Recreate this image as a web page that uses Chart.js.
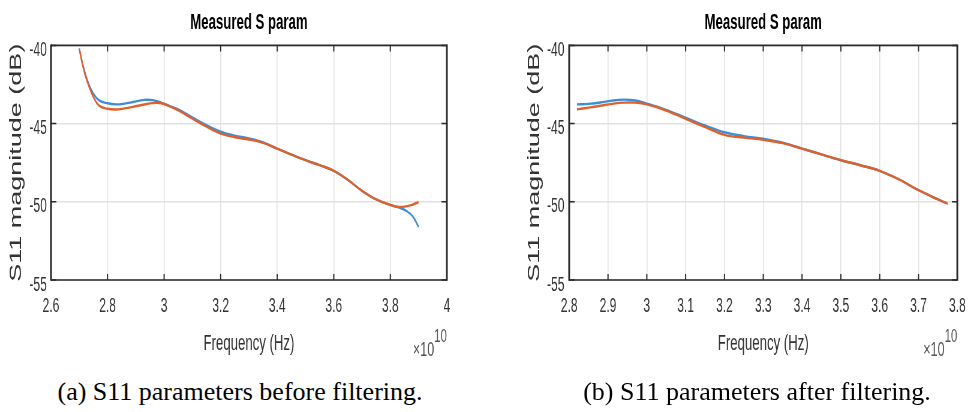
<!DOCTYPE html>
<html>
<head>
<meta charset="utf-8">
<title>S11 before / after filtering</title>
<script src="https://cdn.jsdelivr.net/npm/chart.js@4"></script>
<style>
    html, body { margin: 0; padding: 0; background: #fff; }
    body { width: 974px; height: 412px; position: relative; overflow: hidden; }
    .panel { position: absolute; top: 0; width: 487px; height: 412px; }
    .panel canvas { position: absolute; left: 0; top: 0; transform: scaleX(0.5998); transform-origin: 0 0; }
    .caption {
        position: absolute; top: 377px; transform: translateX(-50%);
        white-space: nowrap; font-family: 'Liberation Serif', 'Times New Roman', serif;
        font-size: 26px; line-height: 30px; color: #000;
    }
</style>
</head>
<body>
<div class="panel" style="left:0">
    <canvas id="chartBefore" width="812" height="365"></canvas>
    <div class="caption" style="left:240px">(a) S11 parameters before filtering.</div>
</div>
<div class="panel" style="left:487px">
    <canvas id="chartAfter" width="812" height="365"></canvas>
    <div class="caption" style="left:270px">(b) S11 parameters after filtering.</div>
</div>
<script>
// Frequencies in units of 1e10 Hz
const freqBefore = [2.70, 2.71, 2.72, 2.735, 2.75, 2.77, 2.80, 2.83, 2.86, 2.89, 2.93, 2.96, 2.99, 3.02, 3.05, 3.10, 3.15, 3.20, 3.25, 3.30, 3.35, 3.40, 3.45, 3.50, 3.55, 3.60, 3.65, 3.70, 3.75, 3.80, 3.83, 3.86, 3.88, 3.90];
const s11BeforeBlue = [-40.2, -41.05, -41.75, -42.55, -43.1, -43.52, -43.7, -43.77, -43.72, -43.62, -43.48, -43.5, -43.66, -43.88, -44.1, -44.6, -45.1, -45.52, -45.77, -45.95, -46.2, -46.6, -46.98, -47.34, -47.66, -48.02, -48.6, -49.3, -49.85, -50.2, -50.36, -50.62, -50.95, -51.6];
const s11BeforeOrange = [-40.2, -41.1, -41.82, -42.65, -43.3, -43.85, -44.05, -44.1, -44.03, -43.93, -43.78, -43.69, -43.7, -43.9, -44.15, -44.68, -45.2, -45.64, -45.87, -46.02, -46.23, -46.6, -46.98, -47.34, -47.66, -48.02, -48.6, -49.3, -49.85, -50.2, -50.33, -50.28, -50.17, -50.02];

const freqAfter = [2.82, 2.85, 2.88, 2.91, 2.94, 2.97, 3.00, 3.05, 3.10, 3.15, 3.20, 3.25, 3.30, 3.35, 3.40, 3.45, 3.50, 3.55, 3.60, 3.65, 3.70, 3.75, 3.775];
const s11AfterBlue = [-43.77, -43.74, -43.65, -43.53, -43.47, -43.52, -43.72, -44.12, -44.62, -45.12, -45.55, -45.8, -45.97, -46.22, -46.6, -46.97, -47.34, -47.66, -48.02, -48.57, -49.26, -49.85, -50.12];
const s11AfterOrange = [-44.09, -43.98, -43.86, -43.74, -43.66, -43.66, -43.77, -44.16, -44.7, -45.22, -45.72, -45.9, -46.04, -46.25, -46.6, -46.97, -47.34, -47.66, -48.02, -48.57, -49.26, -49.85, -50.12];

const yTicks = [-55, -50, -45, -40];
const xTicksBefore = [2.6, 2.8, 3.0, 3.2, 3.4, 3.6, 3.8, 4.0];
const xTicksAfter = [2.8, 2.9, 3.0, 3.1, 3.2, 3.3, 3.4, 3.5, 3.6, 3.7, 3.8];

const BLUE = '#3b8fd6';
const ORANGE = '#e0602c';
const TEXT = '#333333';
const FONT = "'Liberation Sans', Arial, sans-serif";

function toPoints(xs, ys) {
    return xs.map((x, i) => ({ x: x, y: ys[i] }));
}

// Axes box with inward tick marks and the x10^10 exponent label
const framePlugin = {
    id: 'frame',
    afterDraw(chart) {
        const { ctx, chartArea: a, scales } = chart;
        ctx.save();
        ctx.strokeStyle = '#2b2b2b';

        // ticks pointing into the plot
        ctx.lineWidth = 2;
        scales.x.ticks.forEach(t => {
            const px = scales.x.getPixelForValue(t.value);
            ctx.beginPath();
            ctx.moveTo(px, a.top); ctx.lineTo(px, a.top + 6);
            ctx.moveTo(px, a.bottom); ctx.lineTo(px, a.bottom - 6);
            ctx.stroke();
        });
        ctx.lineWidth = 1.5;
        scales.y.ticks.forEach(t => {
            const py = scales.y.getPixelForValue(t.value);
            ctx.beginPath();
            ctx.moveTo(a.left, py); ctx.lineTo(a.left + 9, py);
            ctx.moveTo(a.right, py); ctx.lineTo(a.right - 9, py);
            ctx.stroke();
        });

        // box
        ctx.lineWidth = 1.6;
        ctx.beginPath();
        ctx.moveTo(a.left, a.top); ctx.lineTo(a.right, a.top);
        ctx.moveTo(a.left, a.bottom); ctx.lineTo(a.right, a.bottom);
        ctx.stroke();
        ctx.lineWidth = 3;
        ctx.beginPath();
        ctx.moveTo(a.left, a.top - 0.8); ctx.lineTo(a.left, a.bottom + 0.8);
        ctx.moveTo(a.right, a.top - 0.8); ctx.lineTo(a.right, a.bottom + 0.8);
        ctx.stroke();

        // exponent
        ctx.fillStyle = '#555555';
        ctx.textAlign = 'right';
        ctx.textBaseline = 'alphabetic';
        ctx.font = '19px ' + FONT;
        const supW = ctx.measureText('10').width;
        ctx.fillText('10', a.right, 342);
        ctx.font = '21px ' + FONT;
        ctx.fillText('\u00d710', a.right - supW, 356);
        ctx.restore();
    }
};

function makeChart(id, freqs, blue, orange, xTicks, opts) {
    const ctx = document.getElementById(id).getContext('2d');
    return new Chart(ctx, {
        type: 'line',
        data: {
            datasets: [{
                data: toPoints(freqs, blue),
                borderColor: BLUE,
                borderWidth: 2.4,
                pointRadius: 0,
                tension: 0.4,
                order: 2
            }, {
                data: toPoints(freqs, orange),
                borderColor: ORANGE,
                borderWidth: 2.4,
                pointRadius: 0,
                tension: 0.4,
                order: 1
            }]
        },
        options: {
            responsive: false,
            animation: false,
            devicePixelRatio: 1,
            layout: { padding: { left: 0, right: opts.padRight, top: 0, bottom: 0 } },
            plugins: {
                legend: { display: false },
                tooltip: { enabled: false },
                title: {
                    display: true,
                    text: 'Measured S param',
                    fullSize: false,
                    color: '#000',
                    font: { family: FONT, size: 22, weight: 'bold' },
                    padding: { top: 10, bottom: 9 }
                }
            },
            scales: {
                x: {
                    type: 'linear',
                    min: xTicks[0],
                    max: xTicks[xTicks.length - 1],
                    afterFit: s => { s.height = 85; },
                    afterBuildTicks: s => { s.ticks = xTicks.map(v => ({ value: v })); },
                    border: { display: false },
                    grid: { color: '#e2e2e2', lineWidth: 1.6, drawTicks: false },
                    ticks: {
                        autoSkip: false,
                        maxRotation: 0,
                        padding: 14,
                        color: TEXT,
                        font: { family: FONT, size: 20 },
                        callback: v => String(Math.round(v * 10) / 10)
                    },
                    title: {
                        display: true,
                        text: 'Frequency (Hz)',
                        color: TEXT,
                        font: { family: FONT, size: 22 },
                        padding: { top: 0, bottom: 8 }
                    }
                },
                y: {
                    min: yTicks[0],
                    max: yTicks[yTicks.length - 1],
                    afterFit: s => { s.width = opts.yWidth; },
                    afterBuildTicks: s => { s.ticks = yTicks.map(v => ({ value: v })); },
                    border: { display: false },
                    grid: { color: '#e2e2e2', lineWidth: 1.6, drawTicks: false },
                    ticks: {
                        padding: opts.yTickPad,
                        labelOffset: 5,
                        color: TEXT,
                        font: { family: FONT, size: 20 },
                        callback: v => String(v)
                    },
                    title: {
                        display: true,
                        text: 'S11 magnitude (dB)',
                        color: TEXT,
                        font: { family: FONT, size: 27 },
                        padding: { top: opts.yTitlePad, bottom: 0 }
                    }
                }
            }
        },
        plugins: [framePlugin]
    });
}

document.addEventListener('DOMContentLoaded', () => {
    makeChart('chartBefore', freqBefore, s11BeforeBlue, s11BeforeOrange, xTicksBefore,
        { padRight: 67, yWidth: 85, yTickPad: 7, yTitlePad: 11 });
    makeChart('chartAfter', freqAfter, s11AfterBlue, s11AfterOrange, xTicksAfter,
        { padRight: 17, yWidth: 137, yTickPad: 8, yTitlePad: 63 });
});
</script>
</body>
</html>
